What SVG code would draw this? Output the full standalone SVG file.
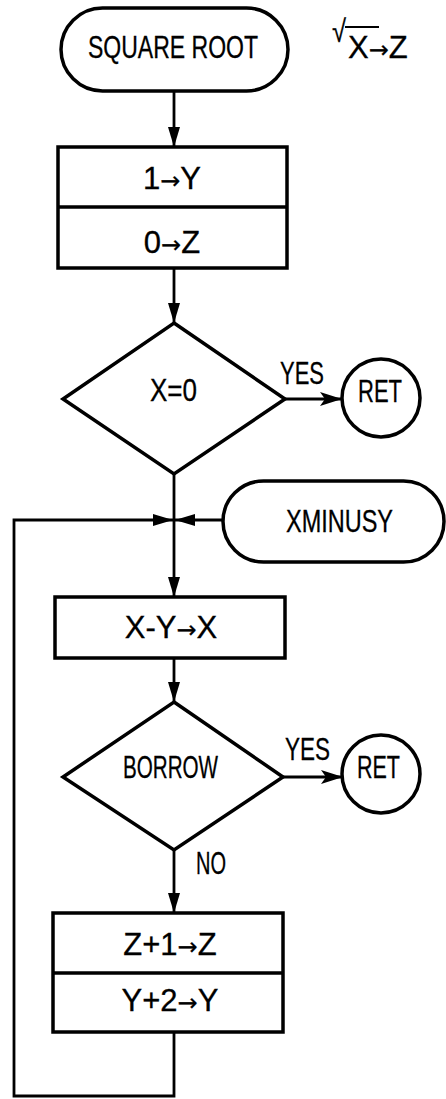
<svg xmlns="http://www.w3.org/2000/svg" width="446" height="1099" viewBox="0 0 446 1099">
<style>
.n{fill:#fff;stroke:#000;stroke-width:3.5}
.c{fill:none;stroke:#000;stroke-width:2.8}
.t{font-family:"Liberation Sans",Arial,sans-serif;font-size:31px;fill:#000;stroke:#000;stroke-width:0.3}
.m{text-anchor:middle}
.a{font-family:"DejaVu Sans",sans-serif;font-size:24px}
</style>
<defs>
<marker id="arr" viewBox="0 0 20 12" refX="20" refY="6" markerWidth="20" markerHeight="12" markerUnits="userSpaceOnUse" orient="auto">
<path d="M0,0 L20,6 L0,12 z" fill="#000"/>
</marker>
<marker id="arr2" viewBox="0 0 22 14" refX="22" refY="7" markerWidth="22" markerHeight="14" markerUnits="userSpaceOnUse" orient="auto">
<path d="M0,0 L22,7 L0,14 L5,7 z" fill="#000"/>
</marker>
</defs>
<rect width="446" height="1099" fill="#fff"/>
<g id="connectors">
<path class="c" d="M174,91 V147" marker-end="url(#arr)"/>
<path class="c" d="M174,268 V323" marker-end="url(#arr)"/>
<path class="c" d="M285,399 H342" marker-end="url(#arr2)"/>
<path class="c" d="M174,473 V597" marker-end="url(#arr)"/>
<path class="c" d="M223,520 H175" marker-end="url(#arr)"/>
<path class="c" d="M174,1032 V1096 H14 V520 H173" marker-end="url(#arr)"/>
<path class="c" d="M174,658 V702" marker-end="url(#arr)"/>
<path class="c" d="M283,777 H343" marker-end="url(#arr2)"/>
<path class="c" d="M174,850 V913" marker-end="url(#arr)"/>
</g>
<g id="start">
<rect class="n" x="61" y="8" width="227" height="83" rx="41.5"/>
<text class="t" x="88" y="58" textLength="170" lengthAdjust="spacingAndGlyphs">SQUARE ROOT</text>
</g>
<g id="formula">
<text class="t" x="332" y="42" font-size="18" textLength="14" lengthAdjust="spacingAndGlyphs">√</text>
<line x1="345" y1="27" x2="379" y2="27" stroke="#000" stroke-width="2"/>
<text class="t" x="348" y="58">X<tspan class="a">→</tspan>Z</text>
</g>
<g id="init">
<rect class="n" x="58" y="147" width="229" height="121"/>
<line x1="58" y1="207" x2="287" y2="207" stroke="#000" stroke-width="3.5"/>
<text class="t m" x="172" y="189">1<tspan class="a">→</tspan>Y</text>
<text class="t m" x="172" y="253">0<tspan class="a">→</tspan>Z</text>
</g>
<g id="testx">
<polygon class="n" points="174,323 285,399 174,474 63,399"/>
<text class="t" x="150" y="401" textLength="47" lengthAdjust="spacingAndGlyphs">X=0</text>
<text class="t" x="280" y="384" textLength="44" lengthAdjust="spacingAndGlyphs">YES</text>
</g>
<g id="ret1">
<circle class="n" cx="381" cy="398" r="39"/>
<text class="t" x="358" y="402" textLength="44" lengthAdjust="spacingAndGlyphs">RET</text>
</g>
<g id="xminusy">
<rect class="n" x="223" y="481" width="221" height="81" rx="40.5"/>
<text class="t" x="286" y="532" textLength="107" lengthAdjust="spacingAndGlyphs">XMINUSY</text>
</g>
<g id="sub">
<rect class="n" x="55" y="597" width="230" height="61"/>
<text class="t m" x="171" y="638">X-Y<tspan class="a">→</tspan>X</text>
</g>
<g id="borrow">
<polygon class="n" points="174,702 283,777 174,850 63,777"/>
<text class="t" x="123" y="778" textLength="95" lengthAdjust="spacingAndGlyphs">BORROW</text>
<text class="t" x="285" y="760" textLength="45" lengthAdjust="spacingAndGlyphs">YES</text>
<text class="t" x="196" y="874" textLength="30" lengthAdjust="spacingAndGlyphs">NO</text>
</g>
<g id="ret2">
<circle class="n" cx="381" cy="774" r="39"/>
<text class="t" x="357" y="778" textLength="43" lengthAdjust="spacingAndGlyphs">RET</text>
</g>
<g id="update">
<rect class="n" x="53" y="913" width="230" height="119"/>
<line x1="53" y1="973" x2="283" y2="973" stroke="#000" stroke-width="3.5"/>
<text class="t m" x="170" y="955">Z+1<tspan class="a">→</tspan>Z</text>
<text class="t m" x="170" y="1011">Y+2<tspan class="a">→</tspan>Y</text>
</g>
</svg>
